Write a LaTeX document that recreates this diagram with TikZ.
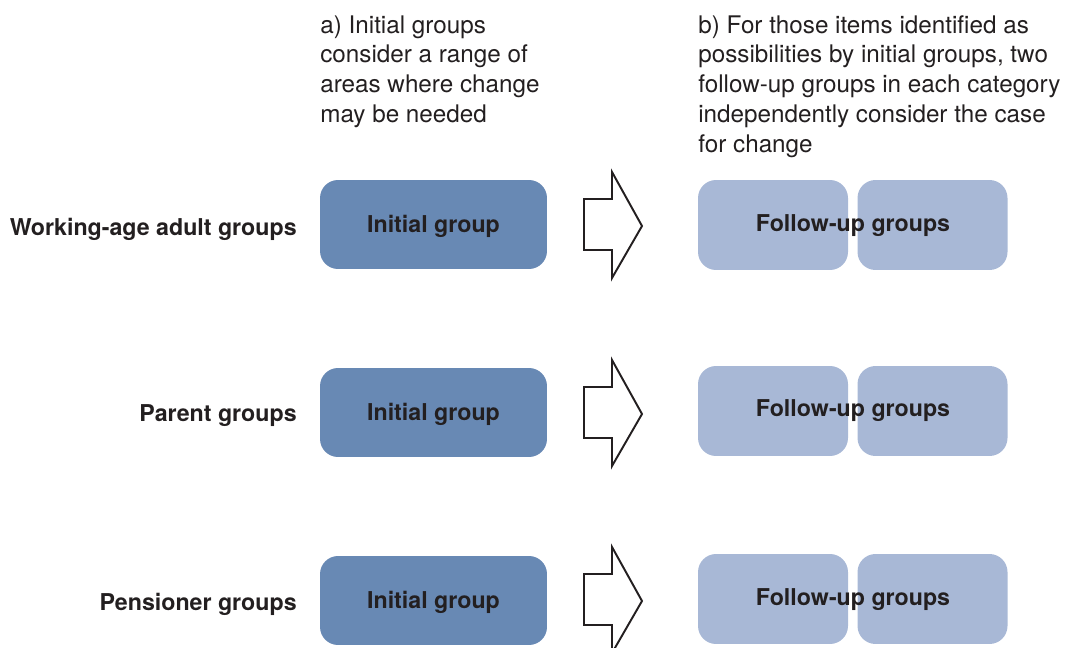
\documentclass[tikz,border=0pt]{standalone}
\usepackage{fontspec}
\setmainfont{TeX Gyre Heros}
\usetikzlibrary{positioning}

\definecolor{initblue}{RGB}{104,137,180}
\definecolor{followblue}{RGB}{168,184,214}
\definecolor{inkgrey}{RGB}{35,31,32}

\tikzset{
  bigarrow/.pic={
    \draw[line width=1.1pt, draw=inkgrey] (-29,-26) -- (-1,-26) -- (-1,-53) -- (29,1)
      -- (-1,53) -- (-1,25) -- (-29,25) -- cycle;
  }
}

\begin{document}
\begin{tikzpicture}[x=0.02cm, y=-0.02cm,
    every node/.style={text=inkgrey},
    headtext/.style={anchor=north west, inner sep=0pt, align=left, font=\fontsize{13.8}{17}\selectfont},
    rowlabel/.style={anchor=east, inner sep=0pt, font=\fontsize{13.2}{15}\selectfont\bfseries},
    initbox/.style={fill=initblue, rounded corners=0.36cm, minimum width=4.54cm, minimum height=1.78cm, text height=0.42cm, text depth=0.1cm, font=\fontsize{13.2}{15}\selectfont\bfseries},
    followbox/.style={fill=followblue, rounded corners=0.36cm, minimum width=3.0cm, minimum height=1.8cm},
    followtext/.style={inner sep=0pt, font=\fontsize{13.2}{15}\selectfont\bfseries}]

    \useasboundingbox (0,0) rectangle (1067,648);

    % column headings
    \node[headtext] (heada) at (320,15) {a) Initial groups\\consider a range of\\areas where change\\may be needed};
    \node[headtext] (headb) at (698,15) {b) For those items identified as\\possibilities by initial groups, two\\follow-up groups in each category\\independently consider the case\\for change};

    % working-age row
    \node[rowlabel] (row1) at (297,229) {Working-age adult groups};
    \node[initbox] (init1) at (433.5,224.5) {Initial group};
    \pic at (613,225) {bigarrow};
    \node[followbox] (fu1a) at (773,225) {};
    \node[followbox] (fu1b) at (932.5,225) {};
    \node[followtext] (fu1) at (853,226) {Follow-up groups};

    % parent row
    \node[rowlabel] (row2) at (297,416) {Parent groups};
    \node[initbox] (init2) at (433.5,412.5) {Initial group};
    \pic at (613,413) {bigarrow};
    \node[followbox] (fu2a) at (773,411) {};
    \node[followbox] (fu2b) at (932.5,411) {};
    \node[followtext] (fu2) at (853,411) {Follow-up groups};

    % pensioner row
    \node[rowlabel] (row3) at (297,604) {Pensioner groups};
    \node[initbox] (init3) at (433.5,600.5) {Initial group};
    \pic at (613,600) {bigarrow};
    \node[followbox] (fu3a) at (773,599) {};
    \node[followbox] (fu3b) at (932.5,599) {};
    \node[followtext] (fu3) at (853,600) {Follow-up groups};

\end{tikzpicture}
\end{document}
